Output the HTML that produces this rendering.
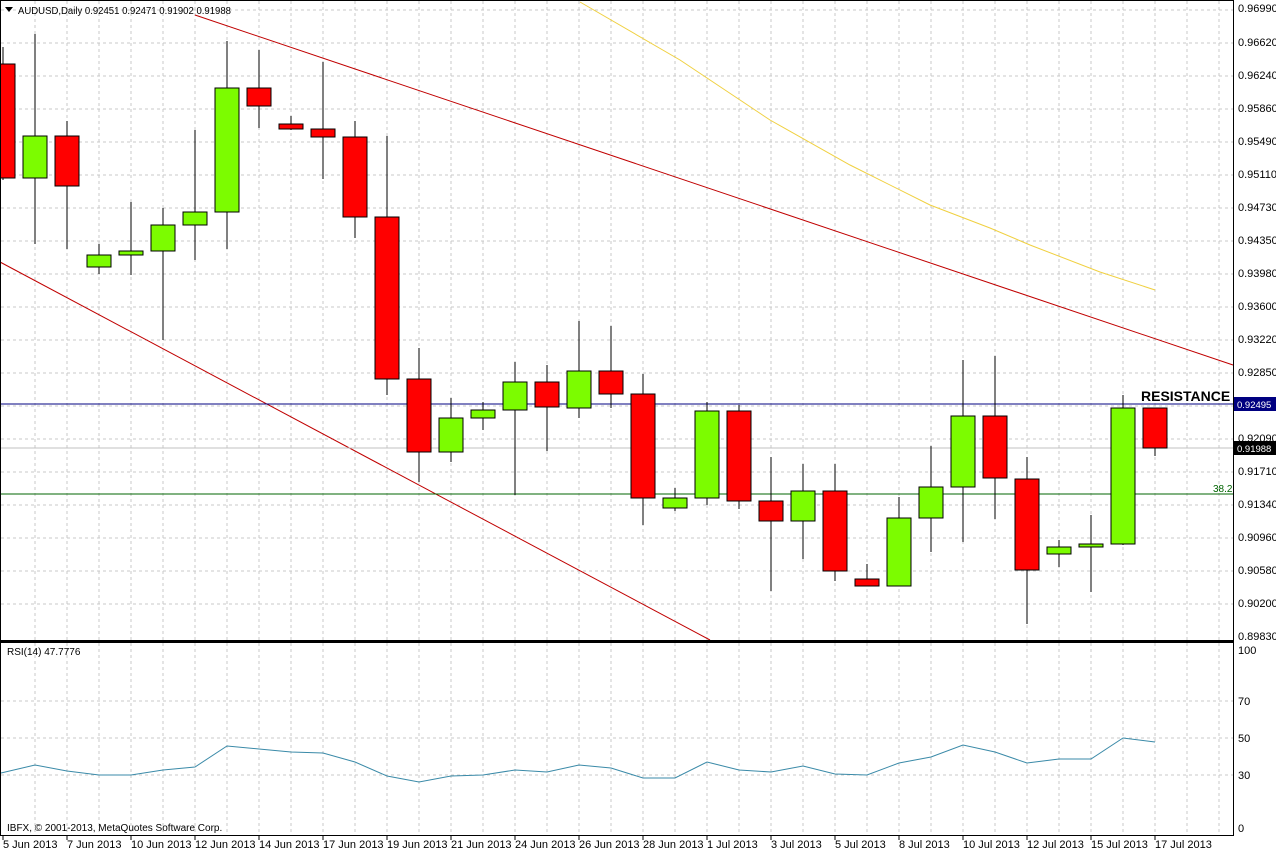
<!DOCTYPE html>
<html><head><meta charset="utf-8"><style>
body{margin:0;background:#fff}
svg{display:block;font-family:"Liberation Sans",Tahoma,sans-serif}
text{font-size:11px;fill:#000}
.g{stroke:#c8c8c8;stroke-dasharray:3,3;stroke-width:1}
.w{stroke:#000;stroke-width:1}
.u{fill:#7cfc00;stroke:#000;stroke-width:1}
.d{fill:#ff0000;stroke:#000;stroke-width:1}
</style></head><body>
<svg width="1276" height="853" viewBox="0 0 1276 853">
<rect width="1276" height="853" fill="#fff"/>
<g class="g">
<path d="M35 1V640M67 1V640M99 1V640M131 1V640M163 1V640M195 1V640M227 1V640M259 1V640M291 1V640M323 1V640M355 1V640M387 1V640M419 1V640M451 1V640M483 1V640M515 1V640M547 1V640M579 1V640M611 1V640M643 1V640M675 1V640M707 1V640M739 1V640M771 1V640M803 1V640M835 1V640M867 1V640M899 1V640M931 1V640M963 1V640M995 1V640M1027 1V640M1059 1V640M1091 1V640M1123 1V640M1155 1V640M1187 1V640M1219 1V640"/>
<path d="M1 10H1233M1 43H1233M1 76H1233M1 109H1233M1 142H1233M1 175H1233M1 208H1233M1 241H1233M1 274H1233M1 307H1233M1 340H1233M1 373H1233M1 406H1233M1 439H1233M1 472H1233M1 505H1233M1 538H1233M1 571H1233M1 604H1233"/>
<path d="M35 643V835M67 643V835M99 643V835M131 643V835M163 643V835M195 643V835M227 643V835M259 643V835M291 643V835M323 643V835M355 643V835M387 643V835M419 643V835M451 643V835M483 643V835M515 643V835M547 643V835M579 643V835M611 643V835M643 643V835M675 643V835M707 643V835M739 643V835M771 643V835M803 643V835M835 643V835M867 643V835M899 643V835M931 643V835M963 643V835M995 643V835M1027 643V835M1059 643V835M1091 643V835M1123 643V835M1155 643V835M1187 643V835M1219 643V835"/>
<path d="M1 701H1233M1 738H1233M1 775H1233"/>
</g>
<line x1="195" y1="15" x2="1233" y2="365" stroke="#c00000" stroke-width="1"/>
<line x1="0" y1="262" x2="710" y2="640" stroke="#c00000" stroke-width="1"/>
<polyline points="580,2 680,60 770,120 850,165 930,205 990,228 1030,245 1100,272 1155,290" fill="none" stroke="#f0d040" stroke-width="1"/>
<line x1="1" y1="404" x2="1233" y2="404" stroke="#000080"/>
<line x1="1" y1="494" x2="1233" y2="494" stroke="#006400"/>
<line x1="1" y1="448" x2="1233" y2="448" stroke="#c0c0c0"/>
<text x="1213" y="492" style="font-size:10px;fill:#006400">38.2</text>
<path class="w" d="M3 47V180M35 34V244M67 121V249M99 244V274M131 202V275M163 208V340M195 130V260M227 41V249M259 50V128M291 116V130M323 62V179M355 121V238M387 136V395M419 348V482M451 398V462M483 402V430M515 362V495M547 365V451M579 321V418M611 326V408M643 374V525M675 488V511M707 402V505M739 405V509M771 457V591M803 464V559M835 464V581M867 564V586M899 497V586M931 446V552M963 360V542M995 356V519M1027 457V624M1059 540V567M1091 515V592M1123 395V545M1155 408V456"/>
<rect class="d" x="0" y="64" width="15" height="114"/>
<rect class="u" x="23" y="136" width="24" height="42"/>
<rect class="d" x="55" y="136" width="24" height="50"/>
<rect class="u" x="87" y="255" width="24" height="12"/>
<rect class="u" x="119" y="251" width="24" height="4"/>
<rect class="u" x="151" y="225" width="24" height="26"/>
<rect class="u" x="183" y="212" width="24" height="13"/>
<rect class="u" x="215" y="88" width="24" height="124"/>
<rect class="d" x="247" y="88" width="24" height="18"/>
<rect class="d" x="279" y="124" width="24" height="5"/>
<rect class="d" x="311" y="129" width="24" height="8"/>
<rect class="d" x="343" y="137" width="24" height="80"/>
<rect class="d" x="375" y="217" width="24" height="162"/>
<rect class="d" x="407" y="379" width="24" height="73"/>
<rect class="u" x="439" y="418" width="24" height="34"/>
<rect class="u" x="471" y="410" width="24" height="8"/>
<rect class="u" x="503" y="382" width="24" height="28"/>
<rect class="d" x="535" y="382" width="24" height="25"/>
<rect class="u" x="567" y="371" width="24" height="37"/>
<rect class="d" x="599" y="371" width="24" height="23"/>
<rect class="d" x="631" y="394" width="24" height="104"/>
<rect class="u" x="663" y="498" width="24" height="10"/>
<rect class="u" x="695" y="411" width="24" height="87"/>
<rect class="d" x="727" y="411" width="24" height="90"/>
<rect class="d" x="759" y="501" width="24" height="20"/>
<rect class="u" x="791" y="491" width="24" height="30"/>
<rect class="d" x="823" y="491" width="24" height="80"/>
<rect class="d" x="855" y="579" width="24" height="7"/>
<rect class="u" x="887" y="518" width="24" height="68"/>
<rect class="u" x="919" y="487" width="24" height="31"/>
<rect class="u" x="951" y="416" width="24" height="71"/>
<rect class="d" x="983" y="416" width="24" height="62"/>
<rect class="d" x="1015" y="479" width="24" height="91"/>
<rect class="u" x="1047" y="547" width="24" height="7"/>
<rect class="u" x="1079" y="544" width="24" height="3"/>
<rect class="u" x="1111" y="408" width="24" height="136"/>
<rect class="d" x="1143" y="408" width="24" height="40"/>
<text x="1141" y="401" style="font-size:14px;font-weight:bold">RESISTANCE</text>
<path d="M5 7L13 7L9 12Z" fill="#000"/>
<text x="18" y="14" style="font-size:10px" textLength="213" lengthAdjust="spacingAndGlyphs">AUDUSD,Daily  0.92451 0.92471 0.91902 0.91988</text>
<polyline fill="none" stroke="#3a8aa8" stroke-width="1" points="1,773 35,765 67,771 99,775 131,775 163,770 195,767 227,746 259,749 291,752 323,753 355,762 387,776 419,782 451,776 483,775 515,770 547,772 579,765 611,768 643,778 675,778 707,762 739,770 771,772 803,766 835,774 867,775 899,763 931,757 963,745 995,752 1027,763 1059,759 1091,759 1123,738 1155,742"/>
<text x="7" y="655" style="font-size:10px">RSI(14) 47.7776</text>
<text x="7" y="831" style="font-size:10px">IBFX, © 2001-2013, MetaQuotes Software Corp.</text>
<rect x="0.5" y="0.5" width="1233" height="640" fill="none" stroke="#000"/>
<rect x="0.5" y="642.5" width="1233" height="193" fill="none" stroke="#000"/>
<line x1="0" y1="641.5" x2="1234" y2="641.5" stroke="#000"/>
<g style="font-size:9.5px">
<text x="1238" y="12">0.96990</text><text x="1238" y="46">0.96620</text><text x="1238" y="79">0.96240</text><text x="1238" y="112">0.95860</text><text x="1238" y="145">0.95490</text><text x="1238" y="178">0.95110</text><text x="1238" y="211">0.94730</text><text x="1238" y="244">0.94350</text><text x="1238" y="277">0.93980</text><text x="1238" y="310">0.93600</text><text x="1238" y="343">0.93220</text><text x="1238" y="376">0.92850</text><text x="1238" y="442">0.92090</text><text x="1238" y="475">0.91710</text><text x="1238" y="508">0.91340</text><text x="1238" y="541">0.90960</text><text x="1238" y="574">0.90580</text><text x="1238" y="607">0.90200</text><text x="1238" y="640">0.89830</text>
</g>
<rect x="1234" y="397" width="42" height="14" fill="#000080"/>
<text x="1237" y="408" style="font-size:9.5px;fill:#fff">0.92495</text>
<rect x="1234" y="441" width="42" height="14" fill="#000"/>
<text x="1237" y="452" style="font-size:9.5px;fill:#fff">0.91988</text>
<g style="font-size:10px"><text x="1238" y="654">100</text><text x="1238" y="705">70</text><text x="1238" y="742">50</text><text x="1238" y="779">30</text><text x="1238" y="832">0</text></g>
<g style="font-size:9.5px">
<text x="3" y="848">5 Jun 2013</text><text x="67" y="848">7 Jun 2013</text><text x="131" y="848">10 Jun 2013</text><text x="195" y="848">12 Jun 2013</text><text x="259" y="848">14 Jun 2013</text><text x="323" y="848">17 Jun 2013</text><text x="387" y="848">19 Jun 2013</text><text x="451" y="848">21 Jun 2013</text><text x="515" y="848">24 Jun 2013</text><text x="579" y="848">26 Jun 2013</text><text x="643" y="848">28 Jun 2013</text><text x="707" y="848">1 Jul 2013</text><text x="771" y="848">3 Jul 2013</text><text x="835" y="848">5 Jul 2013</text><text x="899" y="848">8 Jul 2013</text><text x="963" y="848">10 Jul 2013</text><text x="1027" y="848">12 Jul 2013</text><text x="1091" y="848">15 Jul 2013</text><text x="1155" y="848">17 Jul 2013</text>
</g>
<path d="M3 836V840M67 836V840M131 836V840M195 836V840M259 836V840M323 836V840M387 836V840M451 836V840M515 836V840M579 836V840M643 836V840M707 836V840M771 836V840M835 836V840M899 836V840M963 836V840M1027 836V840M1091 836V840M1155 836V840" stroke="#000"/>
</svg>
</body></html>
